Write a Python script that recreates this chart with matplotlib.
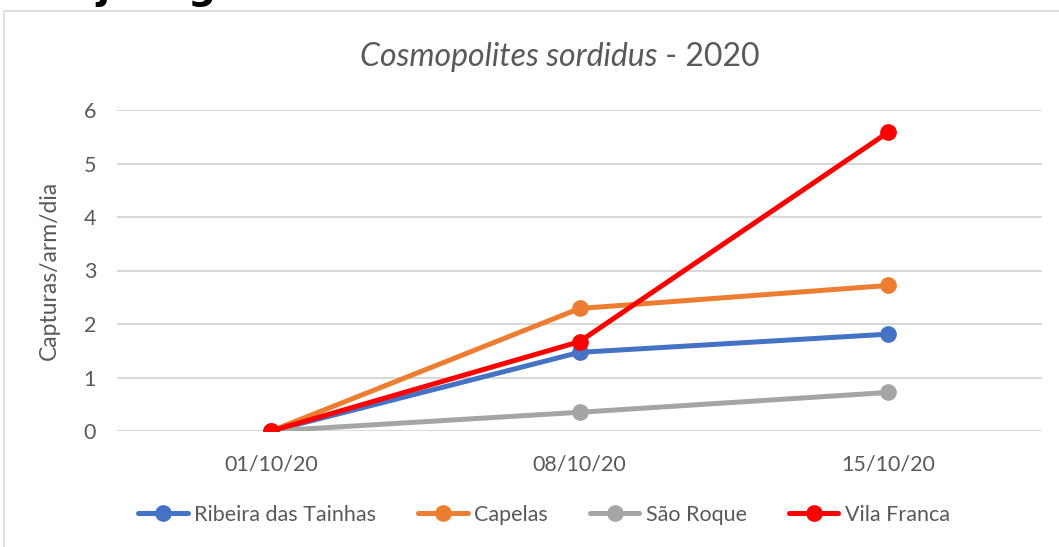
import matplotlib.pyplot as plt
from matplotlib.patches import Rectangle

plt.rcParams['font.family'] = ['Lato', 'DejaVu Sans']

# data
datas = ["01/10/20", "08/10/20", "15/10/20"]
ribeira_das_tainhas = [0, 1.47, 1.81]
capelas = [0, 2.29, 2.72]
sao_roque = [0, 0.35, 0.72]
vila_franca = [0, 1.67, 5.58]

series = [
    ("Ribeira das Tainhas", ribeira_das_tainhas, "#4472C4"),
    ("Capelas", capelas, "#ED7D31"),
    ("São Roque", sao_roque, "#A5A5A5"),
    ("Vila Franca", vila_franca, "#FF0000"),
]

txt = "#595959"
W, H = 1059, 547
fig = plt.figure(figsize=(W / 100, H / 100), dpi=100)

# chart frame (partly cut off by the screenshot)
fig.patches.append(Rectangle((4 / W, -0.05), 1.1, 1 - 11 / H + 0.05, transform=fig.transFigure,
                             fill=False, edgecolor="#D9D9D9", lw=1.2))

# bits of document heading cut off at the top
fig.text(103 / W, 1 + 1 / H, "j", fontsize=28, fontweight="bold", color="black",
         ha="center", va="baseline", family="DejaVu Sans")
fig.text(201 / W, 1 + 1 / H, "g", fontsize=28, fontweight="bold", color="black",
         ha="center", va="baseline", family="DejaVu Sans")

ax = fig.add_axes([117 / W, 1 - 431 / H, (1042 - 117) / W, (431 - 110) / H])
x = list(range(len(datas)))
for nome, vals, cor in series:
    ax.plot(x, vals, color=cor, lw=3.6, marker="o", markersize=11, label=nome,
            solid_capstyle="round")

ax.set_xlim(-0.5, len(datas) - 0.5)
ax.set_ylim(0, 6)
ax.set_yticks(range(0, 7))
ax.set_xticks(x)
ax.set_xticklabels(datas)
ax.grid(axis="y", color="#D9D9D9", lw=1.5)
ax.set_axisbelow(True)
for s in ax.spines.values():
    s.set_visible(False)
ax.tick_params(length=0, labelsize=15.5, colors=txt)
ax.tick_params(axis="y", pad=15)
ax.tick_params(axis="x", pad=17)
ax.set_ylabel("Capturas/arm/dia", fontsize=16.5, color=txt)
ax.yaxis.set_label_coords((60 - 117) / (1042 - 117), 0.5)

# title with italic species name
ty = 1 - 57 / H
fig.text(657 / W, ty, "Cosmopolites sordidus", fontsize=23, style="italic",
         color=txt, ha="right", va="center")
fig.text(657 / W, ty, " - 2020", fontsize=23, color=txt, ha="left", va="center")

fig.legend(loc="center", bbox_to_anchor=(544 / W, 1 - 515 / H), ncol=4, frameon=False,
           fontsize=15.5, labelcolor=txt, handlelength=2.3, handletextpad=0.3,
           columnspacing=1.95)

fig.savefig("out.png", dpi=100)
